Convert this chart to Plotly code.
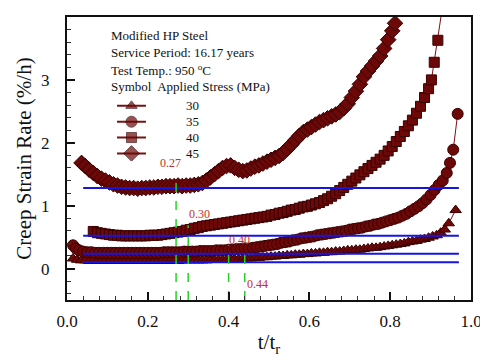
import plotly.graph_objects as go

# ---------------- data ----------------
x30 = [0.015, 0.025, 0.035, 0.045, 0.055, 0.065, 0.075, 0.085, 0.095, 0.105, 0.115, 0.125, 0.135, 0.145,
       0.155, 0.165, 0.175, 0.185, 0.195, 0.205, 0.215, 0.225, 0.235, 0.245, 0.255, 0.265, 0.275, 0.285,
       0.295, 0.305, 0.315, 0.325, 0.335, 0.345, 0.355, 0.365, 0.375, 0.385, 0.395, 0.405, 0.415, 0.425,
       0.435, 0.445, 0.455, 0.465, 0.475, 0.485, 0.495, 0.505, 0.515, 0.525, 0.535, 0.545, 0.555, 0.565,
       0.575, 0.585, 0.595, 0.605, 0.615, 0.625, 0.635, 0.645, 0.655, 0.665, 0.675, 0.685, 0.695, 0.705,
       0.715, 0.725, 0.735, 0.745, 0.755, 0.765, 0.775, 0.785, 0.795, 0.805, 0.815, 0.825, 0.835, 0.845,
       0.855, 0.865, 0.875, 0.885, 0.895, 0.905, 0.915, 0.925, 0.935, 0.945, 0.962]
y30 = [0.16, 0.14, 0.13, 0.13, 0.12, 0.12, 0.12, 0.12, 0.12, 0.12, 0.12, 0.12, 0.12, 0.12,
       0.12, 0.12, 0.12, 0.12, 0.12, 0.12, 0.12, 0.12, 0.12, 0.12, 0.12, 0.12, 0.12, 0.13,
       0.13, 0.13, 0.13, 0.13, 0.13, 0.13, 0.14, 0.14, 0.14, 0.14, 0.14, 0.15, 0.15, 0.15,
       0.16, 0.16, 0.16, 0.17, 0.17, 0.18, 0.18, 0.19, 0.19, 0.20, 0.20, 0.21, 0.21, 0.22,
       0.22, 0.23, 0.23, 0.24, 0.24, 0.25, 0.25, 0.26, 0.26, 0.27, 0.27, 0.28, 0.29, 0.29,
       0.30, 0.30, 0.31, 0.32, 0.33, 0.33, 0.34, 0.35, 0.36, 0.37, 0.38, 0.39, 0.40, 0.42,
       0.43, 0.44, 0.46, 0.47, 0.49, 0.51, 0.53, 0.57, 0.62, 0.72, 0.93]

x35 = [0.015, 0.022, 0.03, 0.04, 0.05, 0.06, 0.07, 0.08, 0.09, 0.10, 0.11, 0.12, 0.13, 0.14, 0.15,
       0.16, 0.17, 0.18, 0.19, 0.20, 0.21, 0.22, 0.23, 0.24, 0.25, 0.26, 0.27, 0.28, 0.29, 0.30,
       0.31, 0.32, 0.33, 0.34, 0.35, 0.36, 0.37, 0.38, 0.39, 0.40, 0.41, 0.42, 0.43, 0.44, 0.45,
       0.46, 0.47, 0.48, 0.49, 0.50, 0.51, 0.52, 0.53, 0.54, 0.55, 0.56, 0.57, 0.58, 0.59, 0.60,
       0.61, 0.62, 0.63, 0.64, 0.65, 0.66, 0.67, 0.68, 0.69, 0.70, 0.71, 0.72, 0.73, 0.74, 0.75,
       0.76, 0.77, 0.78, 0.79, 0.80, 0.81, 0.82, 0.83, 0.84, 0.85, 0.86, 0.87, 0.88, 0.89, 0.90,
       0.91, 0.92, 0.93, 0.94, 0.948, 0.956, 0.967]
y35 = [0.37, 0.32, 0.29, 0.27, 0.26, 0.26, 0.25, 0.25, 0.25, 0.25, 0.25, 0.25, 0.25, 0.25, 0.25,
       0.25, 0.25, 0.25, 0.25, 0.25, 0.25, 0.25, 0.25, 0.26, 0.26, 0.26, 0.26, 0.26, 0.27, 0.27,
       0.27, 0.27, 0.28, 0.28, 0.28, 0.28, 0.29, 0.29, 0.29, 0.30, 0.30, 0.31, 0.31, 0.32, 0.32,
       0.33, 0.34, 0.35, 0.36, 0.37, 0.38, 0.39, 0.41, 0.42, 0.43, 0.45, 0.46, 0.48, 0.49, 0.50,
       0.51, 0.53, 0.54, 0.55, 0.56, 0.57, 0.58, 0.59, 0.60, 0.62, 0.63, 0.64, 0.65, 0.67, 0.68,
       0.70, 0.71, 0.73, 0.75, 0.77, 0.79, 0.81, 0.84, 0.87, 0.91, 0.95, 0.99, 1.04, 1.10, 1.17,
       1.25, 1.33, 1.40, 1.52, 1.68, 1.89, 2.46]

x40 = [0.065, 0.075, 0.085, 0.095, 0.105, 0.115, 0.125, 0.135, 0.145, 0.155, 0.165, 0.175, 0.185,
       0.195, 0.205, 0.215, 0.225, 0.235, 0.245, 0.255, 0.265, 0.275, 0.285, 0.295, 0.305, 0.315,
       0.325, 0.335, 0.345, 0.355, 0.365, 0.375, 0.385, 0.395, 0.405, 0.415, 0.425, 0.435, 0.445,
       0.455, 0.465, 0.475, 0.485, 0.495, 0.505, 0.515, 0.525, 0.535, 0.545, 0.555, 0.565, 0.575,
       0.585, 0.595, 0.605, 0.615, 0.625, 0.635, 0.645, 0.655, 0.665, 0.675, 0.685, 0.695, 0.705,
       0.715, 0.725, 0.735, 0.745, 0.755, 0.765, 0.775, 0.785, 0.795, 0.805, 0.815, 0.825, 0.835,
       0.845, 0.855, 0.865, 0.875, 0.885, 0.895, 0.902, 0.909, 0.918, 0.935]
y40 = [0.59, 0.57, 0.56, 0.55, 0.54, 0.53, 0.53, 0.52, 0.52, 0.52, 0.52, 0.52, 0.52,
       0.52, 0.53, 0.53, 0.53, 0.54, 0.55, 0.56, 0.57, 0.58, 0.59, 0.61, 0.62, 0.64,
       0.65, 0.67, 0.68, 0.69, 0.70, 0.71, 0.72, 0.73, 0.74, 0.75, 0.76, 0.77, 0.78,
       0.79, 0.80, 0.81, 0.82, 0.83, 0.85, 0.86, 0.88, 0.89, 0.91, 0.93, 0.94, 0.96,
       0.98, 0.99, 1.01, 1.03, 1.05, 1.08, 1.11, 1.15, 1.19, 1.24, 1.29, 1.34, 1.39,
       1.44, 1.49, 1.54, 1.59, 1.64, 1.69, 1.74, 1.80, 1.87, 1.94, 2.02, 2.10, 2.18,
       2.27, 2.36, 2.47, 2.58, 2.72, 2.86, 3.00, 3.28, 3.63, 4.40]

x45 = [0.036, 0.045, 0.055, 0.065, 0.075, 0.085, 0.095, 0.105, 0.115, 0.125, 0.135, 0.145, 0.155,
       0.165, 0.175, 0.185, 0.195, 0.205, 0.215, 0.225, 0.235, 0.245, 0.255, 0.265, 0.275, 0.285,
       0.295, 0.305, 0.315, 0.325, 0.335, 0.345, 0.355, 0.365, 0.375, 0.385, 0.395, 0.405, 0.415,
       0.425, 0.435, 0.445, 0.455, 0.465, 0.475, 0.485, 0.495, 0.505, 0.515, 0.525, 0.535, 0.545,
       0.555, 0.565, 0.575, 0.585, 0.595, 0.605, 0.615, 0.625, 0.635, 0.645, 0.655, 0.665, 0.675,
       0.685, 0.695, 0.705, 0.715, 0.725, 0.735, 0.745, 0.755, 0.765, 0.775, 0.785, 0.795, 0.805, 0.812]
y45 = [1.68, 1.63, 1.57, 1.52, 1.47, 1.43, 1.40, 1.37, 1.34, 1.32, 1.30, 1.29, 1.28,
       1.28, 1.27, 1.28, 1.28, 1.29, 1.29, 1.30, 1.30, 1.31, 1.31, 1.31, 1.32, 1.31,
       1.32, 1.32, 1.33, 1.34, 1.36, 1.40, 1.45, 1.50, 1.55, 1.60, 1.63, 1.64, 1.60,
       1.57, 1.55, 1.56, 1.59, 1.62, 1.64, 1.67, 1.70, 1.73, 1.76, 1.79, 1.84, 1.90,
       1.97, 2.04, 2.11, 2.17, 2.21, 2.25, 2.29, 2.33, 2.36, 2.39, 2.42, 2.45, 2.49,
       2.55, 2.62, 2.72, 2.82, 2.93, 3.05, 3.14, 3.22, 3.30, 3.38, 3.50, 3.64, 3.78, 3.90]

stress_labels = ["30", "35", "40", "45"]
symbols = ["triangle-up", "circle", "square", "diamond"]
marker_sizes = [10, 11, 10, 12]

legend_header = ["Modified HP Steel", "Service Period: 16.17 years",
                 "Test Temp.: 950 <sup>o</sup>C", "Symbol  Applied Stress (MPa)"]

# horizontal reference (blue) lines
h_levels = [1.28, 0.52, 0.235, 0.10]
h_x = [0.04, 0.97]

# vertical (green) markers
v_pos = [0.27, 0.30, 0.40, 0.44]
v_top = [1.42, 0.69, 0.37, 0.21]
v_text = ["0.27", "0.30", "0.40", "0.44"]
v_text_x = [0.255, 0.328, 0.428, 0.472]
v_text_y = [1.68, 0.87, 0.46, -0.25]

FONT = "Liberation Serif"
FILL = "#6d0808"
EDGE = "#3a0000"
INK = "#111111"

fig = go.Figure()

series = [(x30, y30), (x35, y35), (x40, y40), (x45, y45)]
for (xs, ys), lab, sym, sz in zip(series, stress_labels, symbols, marker_sizes):
    fig.add_trace(go.Scatter(
        x=xs, y=ys, mode="lines+markers", name=lab, showlegend=False,
        line=dict(color="#7a1010", width=1),
        marker=dict(symbol=sym, size=sz, color=FILL, line=dict(color=EDGE, width=1)),
    ))

for lev in h_levels:
    fig.add_trace(go.Scatter(
        x=h_x, y=[lev, lev], mode="lines", showlegend=False,
        line=dict(color="#1414e6", width=2), hoverinfo="skip",
    ))

for xv, yt in zip(v_pos, v_top):
    fig.add_trace(go.Scatter(
        x=[xv, xv], y=[-0.5, yt], mode="lines", showlegend=False,
        line=dict(color="#22d622", width=1.5, dash="dash"), hoverinfo="skip",
    ))

for tx, txt, ty in zip(v_text_x, v_text, v_text_y):
    fig.add_annotation(x=tx, y=ty, text=txt, showarrow=False, xanchor="center",
                       yanchor="middle", font=dict(family=FONT, size=12, color="#c0302a"))

# ---- legend drawn on its own small (hidden) axis pair ----
legend_order = stress_labels[::-1]          # bottom-to-top category order
for lab, sym, sz in zip(stress_labels, symbols, marker_sizes):
    fig.add_trace(go.Scatter(
        x=[0, 0.5, 1], y=[lab, lab, lab], xaxis="x2", yaxis="y2",
        mode="lines+markers", showlegend=False, hoverinfo="skip",
        line=dict(color="#7a1010", width=2),
        marker=dict(symbol=sym, size=[0, sz, 0], color=FILL,
                    line=dict(color=EDGE, width=[0, 1, 0])),
    ))
    fig.add_annotation(xref="paper", yref="y2", x=0.29, y=legend_order.index(lab), text=lab,
                       showarrow=False, xanchor="left", yanchor="middle",
                       font=dict(family=FONT, size=13, color=INK))

header_y = [0.936, 0.876, 0.813, 0.753]
for txt, hy in zip(legend_header, header_y):
    fig.add_annotation(xref="paper", yref="paper", x=0.104, y=hy, text=txt,
                       showarrow=False, xanchor="left", yanchor="middle",
                       font=dict(family=FONT, size=13, color=INK))

# The page body has an 8px default margin, so the figure is sized to fit the
# 488x360 window exactly after that offset.
fig.update_layout(
    width=480, height=352,
    margin=dict(l=59, r=17, t=9, b=60),
    paper_bgcolor="white", plot_bgcolor="white",
    font=dict(family=FONT, color=INK),
    showlegend=False,
    xaxis=dict(
        range=[0, 1.0], tickvals=[0, 0.2, 0.4, 0.6, 0.8, 1.0],
        ticktext=["0.0", "0.2", "0.4", "0.6", "0.8", "1.0"],
        ticks="inside", ticklen=8, tickwidth=2, tickcolor=INK,
        minor=dict(ticks="inside", ticklen=4, tickwidth=1, dtick=0.04, tick0=0, tickcolor="#333333"),
        showline=True, linecolor=INK, linewidth=2, mirror=True,
        showgrid=False, zeroline=False, automargin=False,
        ticklabelstandoff=5,
        tickfont=dict(family=FONT, size=17, color=INK),
        title=dict(text="t/t<sub>r</sub>", font=dict(family=FONT, size=21, color=INK), standoff=4),
    ),
    yaxis=dict(
        range=[-0.5, 4.0], tickvals=[0, 1, 2, 3, 4],
        ticks="inside", ticklen=8, tickwidth=2, tickcolor=INK,
        minor=dict(ticks="inside", ticklen=4, tickwidth=1, dtick=0.2, tick0=0, tickcolor="#333333"),
        showline=True, linecolor=INK, linewidth=2, mirror=True,
        showgrid=False, zeroline=False, automargin=False,
        ticklabelstandoff=12,
        tickfont=dict(family=FONT, size=17, color=INK),
        title=dict(text="Creep Strain Rate (%/h)", font=dict(family=FONT, size=21, color=INK), standoff=4),
    ),
    xaxis2=dict(domain=[0.1238, 0.1955], anchor="y2", range=[0, 1], visible=False, fixedrange=True),
    yaxis2=dict(domain=[0.49, 0.714], anchor="x2", type="category",
                categoryorder="array", categoryarray=legend_order,
                range=[-0.5, 3.5], visible=False, fixedrange=True),
)

fig.write_html("out.html")
